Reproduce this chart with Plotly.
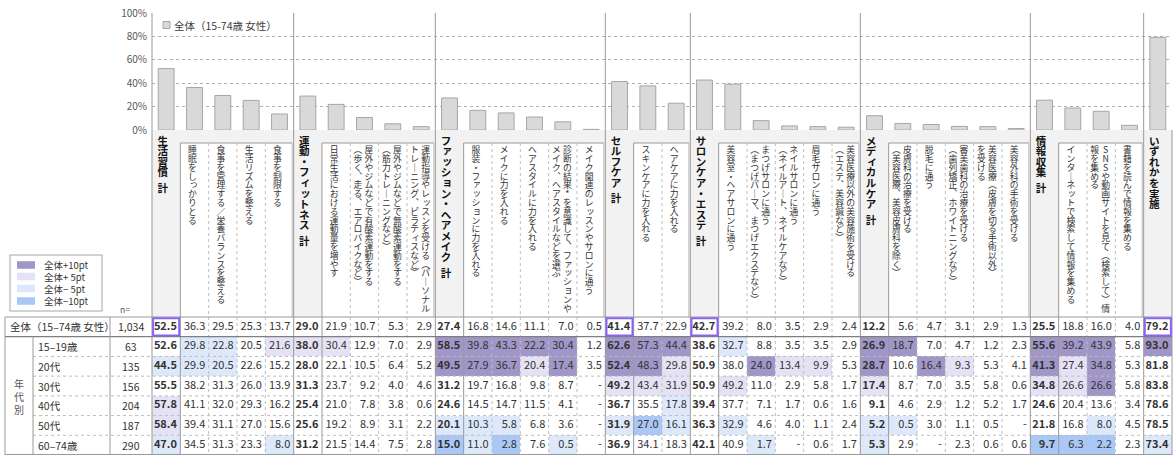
import plotly.graph_objects as go

# ---------------- data ----------------
group_titles = ["生活習慣 計", "運動・フィットネス 計", "ファッション・ヘアメイク 計", "セルフケア 計",
                "サロンケア・エステ 計", "メディカルケア 計", "情報収集 計", "いずれかを実施"]

# each sub item: list of header lines (first line is the right-most in vertical writing)
group_items = [
    [["睡眠をしっかりとる"], ["食事を管理する／栄養バランスを整える"], ["生活リズムを整える"], ["食事を制限する"]],
    [["日常生活における運動量を増やす"],
     ["屋外やジムなどで有酸素運動をする", "（歩く、走る、エアロバイクなど）"],
     ["屋外やジムなどで無酸素運動をする", "（筋力トレーニングなど）"],
     ["運動指導やレッスンを受ける（パーソナル", "トレーニング、ピラティスなど）"]],
    [["服装・ファッションに力を入れる"], ["メイクに力を入れる"], ["ヘアスタイルに力を入れる"],
     ["診断の結果*を意識して、ファッションや", "メイク、ヘアスタイルなどを選ぶ"],
     ["メイク関連のレッスンやサロンに通う"]],
    [["スキンケアに力を入れる"], ["ヘアケアに力を入れる"]],
    [["美容室・ヘアサロンに通う"], ["まつげサロンに通う", "（まつげパーマ、まつげエクステなど）"],
     ["ネイルサロンに通う", "（ネイルアート、ネイルケアなど）"], ["眉毛サロンに通う"],
     ["美容医療以外の美容施術を受ける", "（エステ、美容鍼など）"]],
    [["皮膚科の治療を受ける", "（美容医療、美容皮膚科を除く）"], ["脱毛に通う"],
     ["審美歯科の治療を受ける", "（歯列矯正、ホワイトニングなど）"],
     ["美容医療（皮膚を切る手術以外）", "を受ける"], ["美容外科の手術を受ける"]],
    [["インターネットで検索して情報を集める"], ["SNSや動画サイトを見て（検索して）情", "報を集める"],
     ["書籍を読んで情報を集める"]],
    [],
]

row_labels = ["全体（15–74歳 女性）", "15–19歳", "20代", "30代", "40代", "50代", "60–74歳"]
n_values = ["1,034", "63", "135", "156", "204", "187", "290"]

v_all = [52.5, 36.3, 29.5, 25.3, 13.7, 29.0, 21.9, 10.7, 5.3, 2.9, 27.4, 16.8, 14.6, 11.1, 7.0, 0.5,
         41.4, 37.7, 22.9, 42.7, 39.2, 8.0, 3.5, 2.9, 2.4, 12.2, 5.6, 4.7, 3.1, 2.9, 1.3,
         25.5, 18.8, 16.0, 4.0, 79.2]
v_1519 = [52.6, 29.8, 22.8, 20.5, 21.6, 38.0, 30.4, 12.9, 7.0, 2.9, 58.5, 39.8, 43.3, 22.2, 30.4, 1.2,
          62.6, 57.3, 44.4, 38.6, 32.7, 8.8, 3.5, 3.5, 2.9, 26.9, 18.7, 7.0, 4.7, 1.2, 2.3,
          55.6, 39.2, 43.9, 5.8, 93.0]
v_20s = [44.5, 29.9, 20.5, 22.6, 15.2, 28.0, 22.1, 10.5, 6.4, 5.2, 49.5, 27.9, 36.7, 20.4, 17.4, 3.5,
         52.4, 48.3, 29.8, 50.9, 38.0, 24.0, 13.4, 9.9, 5.3, 28.7, 10.6, 16.4, 9.3, 5.3, 4.1,
         41.3, 27.4, 34.8, 5.3, 81.8]
v_30s = [55.5, 38.2, 31.3, 26.0, 13.9, 31.3, 23.7, 9.2, 4.0, 4.6, 31.2, 19.7, 16.8, 9.8, 8.7, None,
         49.2, 43.4, 31.9, 50.9, 49.2, 11.0, 2.9, 5.8, 1.7, 17.4, 8.7, 7.0, 3.5, 5.8, 0.6,
         34.8, 26.6, 26.6, 5.8, 83.8]
v_40s = [57.8, 41.1, 32.0, 29.3, 16.2, 25.4, 21.0, 7.8, 3.8, 0.6, 24.6, 14.5, 14.7, 11.5, 4.1, None,
         36.7, 35.5, 17.8, 39.4, 37.7, 7.1, 1.7, 0.6, 1.6, 9.1, 4.6, 2.9, 1.2, 5.2, 1.7,
         24.6, 20.4, 13.6, 3.4, 78.6]
v_50s = [58.4, 39.4, 31.1, 27.0, 15.6, 25.6, 19.2, 8.9, 3.1, 2.2, 20.1, 10.3, 5.8, 6.8, 3.6, None,
         31.9, 27.0, 16.1, 36.3, 32.9, 4.6, 4.0, 1.1, 2.4, 5.2, 0.5, 3.0, 1.1, 0.5, None,
         21.8, 16.8, 8.0, 4.5, 78.5]
v_6074 = [47.0, 34.5, 31.3, 23.3, 8.0, 31.2, 21.5, 14.4, 7.5, 2.8, 15.0, 11.0, 2.8, 7.6, 0.5, None,
          36.9, 34.1, 18.3, 42.1, 40.9, 1.7, None, 0.6, 1.7, 5.3, 2.9, None, 2.3, 0.6, 0.6,
          9.7, 6.3, 2.2, 2.3, 73.4]

# difference band vs. 全体: 2 = +10pt, 1 = +5pt, -1 = -5pt, -2 = -10pt
lv_all = [0] * 36
lv_1519 = [0, -1, -1, 0, 1, 1, 1, 0, 0, 0, 2, 2, 2, 2, 2, 0, 2, 2, 2, 0, -1, 0, 0, 0, 0,
           2, 2, 0, 0, 0, 0, 2, 2, 2, 0, 2]
lv_20s = [-1, -1, -1, 0, 0, 0, 0, 0, 0, 0, 2, 2, 2, 1, 2, 0, 2, 2, 1, 0, 0, 2, 1, 1, 0,
          2, 0, 2, 1, 0, 0, 2, 1, 2, 0, 0]
lv_30s = [0, 0, 0, 0, 0, 0, 0, 0, 0, 0, 0, 0, 0, 0, 0, 0, 1, 1, 1, 0, 1, 0, 0, 0, 0,
          1, 0, 0, 0, 0, 0, 1, 1, 2, 0, 0]
lv_40s = [1, 0, 0, 0, 0, 0, 0, 0, 0, 0, 0, 0, 0, 0, 0, 0, 0, 0, -1, 0, 0, 0, 0, 0, 0,
          0, 0, 0, 0, 0, 0, 0, 0, 0, 0, 0]
lv_50s = [1, 0, 0, 0, 0, 0, 0, 0, 0, 0, -1, -1, -1, 0, 0, 0, -1, -2, -1, 0, -1, 0, 0, 0, 0,
          -1, -1, 0, 0, 0, 0, 0, 0, -1, 0, 0]
lv_6074 = [-1, 0, 0, 0, -1, 0, 0, 0, 0, 0, -2, -1, -2, 0, -1, 0, 0, 0, 0, 0, 0, -1, 0, 0, 0,
           -1, 0, 0, 0, 0, 0, -2, -2, -2, 0, -1]

highlight_cols = [0, 16, 19, 35]
legend_labels = ["全体+10pt", "全体+ 5pt", "全体− 5pt", "全体−10pt"]
series_name = "全体（15-74歳 女性）"

table_values = [v_all, v_1519, v_20s, v_30s, v_40s, v_50s, v_6074]
table_levels = [lv_all, lv_1519, lv_20s, lv_30s, lv_40s, lv_50s, lv_6074]

# ---------------- geometry / style ----------------
W, H = 1175, 455
FONT = "Noto Sans CJK JP, Noto Sans, sans-serif"
X0, X1 = 152.0, 1172.0
NCOL = len(v_all)
CW = (X1 - X0) / NCOL
Y_TOP, Y_ZERO, Y_SUB, Y_TAB, Y_END = 13.0, 130.0, 143.0, 317.0, 455.0
NROW = len(row_labels)
RH = (Y_END - Y_TAB) / NROW

C_DARK, C_LAV, C_LBLUE, C_BLUE = "#a097c8", "#e6e2f5", "#dde9fb", "#aac8f5"
LINE_SOLID = "#9a9a9a"
LINE_LIGHT = "#bdbdbd"

cols = list(range(NCOL))

# column structure
col_info = []
group_start = []
for g, items in enumerate(group_items):
    group_start.append(len(col_info))
    col_info.append(("total", g))
    for it in items:
        col_info.append(("sub", it))
group_start.append(len(col_info))


def cx(c):
    return X0 + (c + 0.5) * CW


def colx(c):
    return X0 + c * CW


def rowy(r):
    return Y_TAB + (r + 0.5) * RH


VERT = {"ー": "｜", "（": "︵", "）": "︶", "、": "︑", "－": "｜"}
SMALL = set("ァィゥェォッャュョぁぃぅぇぉっゃゅょ")

hx, hy, ht = [], [], []
bx, by, bt = [], [], []


def put_vertical(line, x, y0, pitch, xs, ys, ts, bold=False):
    y = y0
    for ch in line:
        if ch == " ":
            y += pitch * 0.45
            continue
        dx = dy = 0.0
        if ch in SMALL:
            dx, dy = 1.2, -1.0
        g = VERT.get(ch, ch)
        xs.append(x + dx)
        ys.append(y + dy)
        ts.append(f"<b>{g}</b>" if bold else g)
        y += pitch


for c, (kind, val) in enumerate(col_info):
    if kind == "total":
        put_vertical(group_titles[val], cx(c) - 3.5, 142.0, 10.6, bx, by, bt, bold=True)
    else:
        if len(val) == 1:
            put_vertical(val[0], cx(c) - 2.0, 151.0, 8.8, hx, hy, ht)
        else:
            put_vertical(val[0], cx(c) + 4.5, 151.0, 8.8, hx, hy, ht)
            put_vertical(val[1], cx(c) - 6.5, 151.0, 8.8, hx, hy, ht)

# ---------------- figure ----------------
fig = go.Figure()

fig.add_trace(go.Bar(
    x=cols, y=v_all, width=0.56, name=series_name,
    marker=dict(color="#d9d9d9", line=dict(color="#a6a6a6", width=1)),
    xaxis="x", yaxis="y", hoverinfo="skip",
))

fig.add_trace(go.Heatmap(
    z=table_levels, x=cols, y=list(range(NROW)), xaxis="x3", yaxis="y3",
    zmin=-2, zmax=2, showscale=False, hoverinfo="skip",
    colorscale=[[0.0, C_BLUE], [0.125, C_BLUE], [0.125, C_LBLUE], [0.375, C_LBLUE],
                [0.375, "#ffffff"], [0.625, "#ffffff"], [0.625, C_LAV], [0.875, C_LAV],
                [0.875, C_DARK], [1.0, C_DARK]],
))

tx, ty, tt = [], [], []
for r, vals in enumerate(table_values):
    for c, v in enumerate(vals):
        s = "-" if v is None else f"{v:.1f}"
        if col_info[c][0] == "total":
            s = f"<b>{s}</b>"
        tx.append(c + 0.38)
        ty.append(r)
        tt.append(s)
fig.add_trace(go.Scatter(
    x=tx, y=ty, text=tt, mode="text", textposition="middle left",
    textfont=dict(size=11, color="#333333", family=FONT),
    xaxis="x3", yaxis="y3", hoverinfo="skip",
))

fig.add_trace(go.Scatter(
    x=hx, y=hy, text=ht, mode="text", textposition="middle center",
    textfont=dict(size=8.8, color="#333333", family=FONT),
    xaxis="x2", yaxis="y2", hoverinfo="skip",
))
fig.add_trace(go.Scatter(
    x=bx, y=by, text=bt, mode="text", textposition="middle center",
    textfont=dict(size=10.5, color="#111111", family=FONT),
    xaxis="x2", yaxis="y2", hoverinfo="skip",
))

shapes = []


def line(x0, y0, x1, y1, color=LINE_SOLID, width=1, dash="solid", layer="above"):
    shapes.append(dict(type="line", xref="x2", yref="y2", x0=x0, y0=y0, x1=x1, y1=y1,
                       line=dict(color=color, width=width, dash=dash), layer=layer))


def rect(x0, y0, x1, y1, fill, color=None, width=0, layer="below"):
    shapes.append(dict(type="rect", xref="x2", yref="y2", x0=x0, y0=y0, x1=x1, y1=y1,
                       fillcolor=fill, line=dict(color=color or fill, width=width), layer=layer))


# header boxes
for g in range(len(group_titles)):
    a, b = group_start[g], group_start[g + 1]
    rect(colx(a), Y_ZERO, colx(b), Y_TAB, "#f2f2f2")
    if b - a > 1:
        rect(colx(a + 1), Y_SUB, colx(b) - 1.5, Y_TAB, "#ffffff")
        line(colx(a + 1), Y_SUB, colx(b) - 1.5, Y_SUB, color=LINE_SOLID)
        line(colx(b) - 1.5, Y_SUB, colx(b) - 1.5, Y_TAB, color=LINE_LIGHT)

# vertical separators
for c in range(1, NCOL):
    x = colx(c)
    if c in group_start:
        line(x, Y_TOP, x, Y_END, color=LINE_SOLID)
    elif c - 1 in group_start:
        line(x, Y_SUB, x, Y_END, color=LINE_SOLID)
    else:
        line(x, Y_SUB, x, Y_END, color=LINE_LIGHT, dash="dot")
line(X0, Y_TOP, X0, Y_END, color=LINE_SOLID)
line(X1, Y_ZERO, X1, Y_END, color=LINE_SOLID)

# table frame
line(5, Y_TAB, X1, Y_TAB, color=LINE_SOLID)
line(5, Y_TAB + RH, X1, Y_TAB + RH, color="#7f7f7f", width=1.2)
for r in range(2, NROW):
    line(33, Y_TAB + r * RH, X1, Y_TAB + r * RH, color=LINE_LIGHT, dash="dot")
line(5, Y_END - 0.5, X1, Y_END - 0.5, color=LINE_SOLID)
line(5, Y_TAB, 5, Y_END, color=LINE_SOLID)
line(33, Y_TAB + RH, 33, Y_END, color=LINE_SOLID)
line(110, Y_TAB, 110, Y_END, color=LINE_SOLID)

# outlined cells in the 全体 row
for c in highlight_cols:
    shapes.append(dict(type="rect", xref="x3", yref="y3", x0=c - 0.46, x1=c + 0.46, y0=-0.44, y1=0.44,
                       line=dict(color="#8a63f0", width=2), fillcolor="rgba(0,0,0,0)", layer="above"))

# series key inside the bar area
rect(163, 21.5, 170, 28.5, "#d9d9d9", color="#a6a6a6", width=1, layer="above")

# band key
rect(10, 255, 102, 311, "#ffffff", color="#a6a6a6", width=1, layer="above")
band_colors = [C_DARK, C_LAV, C_LBLUE, C_BLUE]
band_y = [265, 276.5, 288.5, 301]
for yy, col in zip(band_y, band_colors):
    rect(17, yy - 3.8, 35, yy + 3.8, col, layer="above")

annotations = []


def text(x, y, s, size=10.5, color="#333333", xanchor="left"):
    annotations.append(dict(xref="x2", yref="y2", x=x, y=y, text=s, showarrow=False,
                            xanchor=xanchor, yanchor="middle",
                            font=dict(size=size, color=color, family=FONT)))


text(172, 25, series_name, size=10.5, color="#404040")
for yy, lab in zip(band_y, legend_labels):
    text(42, yy, lab, size=9.5, color="#333333")
text(125, 309, "n=", size=8.5, color="#555555", xanchor="center")

text(8, rowy(0), row_labels[0], size=10.5)
for r in range(1, NROW):
    text(36, rowy(r), row_labels[r], size=10.5)
for r in range(NROW):
    text(131, rowy(r), n_values[r], size=10.5, xanchor="center")
for i, ch in enumerate("年代別"):
    text(19, 383 + i * 13, ch, size=10, color="#555555", xanchor="center")

fig.update_layout(
    width=W, height=H, margin=dict(l=0, r=0, t=0, b=0, pad=0, autoexpand=False),
    paper_bgcolor="#ffffff", plot_bgcolor="rgba(0,0,0,0)",
    showlegend=False, font=dict(family=FONT),
    xaxis=dict(domain=[X0 / W, X1 / W], range=[-0.5, NCOL - 0.5], visible=False, anchor="y",
               automargin=False),
    yaxis=dict(domain=[(H - Y_ZERO) / H, (H - Y_TOP) / H], range=[0, 100], anchor="x",
               tickvals=[0, 20, 40, 60, 80, 100], ticktext=["0%", "20%", "40%", "60%", "80%", "100%"],
               showgrid=True, gridcolor="#b0b0b0", griddash="dot", gridwidth=1,
               zeroline=False, showline=False, ticks="", ticklabelstandoff=4, automargin=False,
               tickfont=dict(size=10, color="#595959", family=FONT)),
    xaxis2=dict(domain=[0, 1], range=[0, W], visible=False, anchor="y2", automargin=False),
    yaxis2=dict(domain=[0, 1], range=[H, 0], visible=False, anchor="x2", automargin=False),
    xaxis3=dict(domain=[X0 / W, X1 / W], range=[-0.5, NCOL - 0.5], visible=False, anchor="y3",
                automargin=False),
    yaxis3=dict(domain=[0, (H - Y_TAB) / H], range=[NROW - 0.5, -0.5], visible=False, anchor="x3",
                automargin=False),
    shapes=shapes, annotations=annotations,
)

fig.write_html("out.html")
